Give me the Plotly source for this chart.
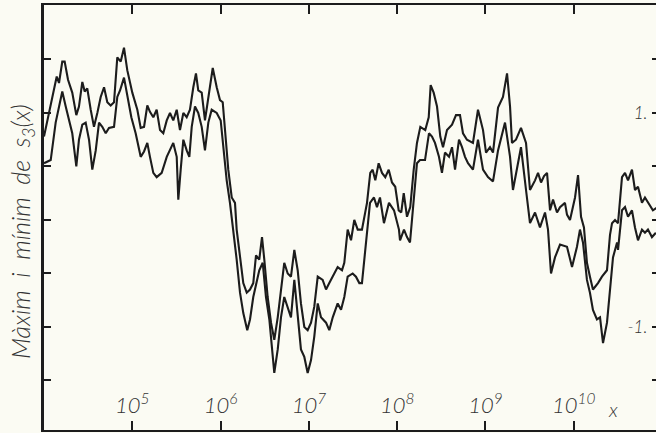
import plotly.graph_objects as go

# log10(x) positions and values
max_log10x = [4.000, 4.057, 4.113, 4.144, 4.170, 4.207, 4.234, 4.272, 4.320, 4.366, 4.396, 4.434, 4.461, 4.490,
              4.529, 4.566, 4.604, 4.642, 4.680, 4.717, 4.755, 4.793, 4.830, 4.869, 4.906, 4.943, 5.000, 5.057,
              5.095, 5.133, 5.170, 5.200, 5.238, 5.276, 5.314, 5.351, 5.390, 5.427, 5.464, 5.503, 5.540, 5.578,
              5.616, 5.653, 5.691, 5.721, 5.747, 5.786, 5.823, 5.861, 5.911, 5.956, 5.993, 6.024, 6.050, 6.087,
              6.126, 6.163, 6.182, 6.220, 6.257, 6.296, 6.333, 6.370, 6.401, 6.438, 6.469, 6.495, 6.533, 6.571,
              6.608, 6.647, 6.684, 6.721, 6.760, 6.797, 6.835, 6.873, 6.910, 6.948, 6.986, 7.024, 7.061, 7.100,
              7.156, 7.194, 7.231, 7.270, 7.326, 7.375, 7.401, 7.439, 7.477, 7.514, 7.553, 7.601, 7.658, 7.695,
              7.722, 7.752, 7.790, 7.828, 7.865, 7.904, 7.941, 7.978, 8.017, 8.046, 8.074, 8.111, 8.148, 8.187,
              8.224, 8.262, 8.318, 8.357, 8.379, 8.413, 8.451, 8.488, 8.519, 8.564, 8.621, 8.666, 8.711, 8.745,
              8.790, 8.858, 8.915, 8.972, 9.006, 9.051, 9.085, 9.142, 9.198, 9.244, 9.278, 9.300, 9.345, 9.402,
              9.459, 9.504, 9.561, 9.595, 9.629, 9.663, 9.697, 9.731, 9.765, 9.810, 9.844, 9.900, 9.923, 9.957,
              10.014, 10.048, 10.082, 10.115, 10.149, 10.183, 10.217, 10.274, 10.319, 10.376, 10.410, 10.433,
              10.467, 10.501, 10.546, 10.580, 10.614, 10.659, 10.693, 10.727, 10.772, 10.806, 10.840, 10.896,
              10.953]
max_values = [0.78, 1.00, 1.21, 1.34, 1.28, 1.48, 1.48, 1.31, 1.19, 0.98, 1.06, 1.29, 1.20, 1.23,
              1.03, 0.87, 1.00, 1.15, 1.24, 1.10, 1.07, 1.10, 1.52, 1.48, 1.61, 1.40, 1.19, 1.03,
              0.86, 0.87, 1.07, 1.01, 0.96, 1.03, 0.84, 0.81, 0.93, 1.00, 0.93, 1.03, 0.84, 1.00,
              0.96, 1.03, 1.24, 1.37, 1.21, 1.19, 0.93, 1.15, 1.42, 1.24, 1.12, 1.10, 0.84, 0.47,
              0.21, 0.16, -0.09, -0.37, -0.59, -0.68, -0.65, -0.59, -0.33, -0.37, -0.16, -0.37, -0.72, -0.96,
              -1.12, -0.91, -0.63, -0.40, -0.50, -0.53, -0.28, -0.47, -0.78, -1.00, -1.03, -0.96, -0.81, -0.53,
              -0.56, -0.65, -0.59, -0.53, -0.44, -0.47, -0.40, -0.09, -0.19, 0.00, -0.09, -0.09, 0.16, 0.44,
              0.47, 0.37, 0.53, 0.44, 0.40, 0.47, 0.35, 0.31, 0.09, 0.07, 0.25, 0.03, 0.12, 0.47,
              0.72, 0.87, 0.84, 0.96, 1.26, 1.19, 1.06, 0.78, 0.68, 0.84, 0.89, 0.98, 0.98, 0.81,
              0.75, 0.72, 1.03, 0.84, 0.63, 0.68, 0.63, 1.05, 1.15, 1.37, 1.06, 0.72, 0.75, 0.86,
              0.72, 0.28, 0.37, 0.44, 0.35, 0.41, 0.44, 0.09, 0.19, 0.07, 0.12, 0.16, 0.05, 0.00,
              0.21, 0.42, 0.03, -0.07, -0.40, -0.53, -0.65, -0.59, -0.53, -0.47, -0.14, -0.03,
              0.00, -0.03, 0.40, 0.44, 0.37, 0.47, 0.28, 0.31, 0.16, 0.21, 0.16, 0.09,
              0.12]

min_log10x = [4.000, 4.076, 4.132, 4.170, 4.207, 4.246, 4.283, 4.320, 4.366, 4.396, 4.434, 4.472, 4.510, 4.547,
              4.586, 4.623, 4.660, 4.699, 4.736, 4.793, 4.830, 4.861, 4.906, 4.943, 4.989, 5.038, 5.095, 5.133,
              5.170, 5.200, 5.238, 5.276, 5.333, 5.390, 5.427, 5.464, 5.503, 5.521, 5.548, 5.578, 5.616, 5.646,
              5.673, 5.710, 5.747, 5.786, 5.823, 5.861, 5.899, 5.956, 6.001, 6.031, 6.069, 6.106, 6.144, 6.182,
              6.220, 6.257, 6.302, 6.333, 6.370, 6.401, 6.438, 6.477, 6.514, 6.552, 6.608, 6.647, 6.684, 6.721,
              6.760, 6.797, 6.835, 6.873, 6.910, 6.948, 6.986, 7.024, 7.061, 7.100, 7.137, 7.194, 7.231, 7.270,
              7.326, 7.364, 7.401, 7.439, 7.496, 7.533, 7.571, 7.601, 7.658, 7.692, 7.737, 7.771, 7.805, 7.850,
              7.907, 7.964, 8.020, 8.032, 8.077, 8.111, 8.145, 8.190, 8.224, 8.258, 8.315, 8.360, 8.394, 8.428,
              8.473, 8.507, 8.541, 8.587, 8.621, 8.655, 8.700, 8.734, 8.768, 8.802, 8.858, 8.915, 8.972, 9.028,
              9.085, 9.142, 9.221, 9.278, 9.311, 9.368, 9.402, 9.459, 9.504, 9.561, 9.617, 9.674, 9.708, 9.742,
              9.787, 9.844, 9.923, 9.980, 10.036, 10.070, 10.104, 10.149, 10.183, 10.217, 10.262, 10.297, 10.331,
              10.376, 10.410, 10.444, 10.490, 10.501, 10.546, 10.580, 10.614, 10.659, 10.693, 10.727, 10.772,
              10.806, 10.840, 10.885, 10.930]
min_values = [0.53, 0.56, 0.91, 1.06, 1.20, 1.06, 0.93, 0.81, 0.50, 0.75, 0.89, 0.91, 0.75, 0.47,
              0.65, 0.91, 0.87, 0.81, 0.86, 0.87, 1.15, 1.21, 1.33, 1.15, 0.96, 0.81, 0.59, 0.64,
              0.72, 0.59, 0.44, 0.40, 0.44, 0.59, 0.65, 0.72, 0.59, 0.19, 0.47, 0.75, 0.65, 0.59,
              0.87, 1.06, 1.00, 0.87, 0.65, 0.91, 1.03, 1.00, 0.93, 0.68, 0.37, 0.16, -0.09, -0.37,
              -0.68, -0.87, -1.03, -0.93, -0.72, -0.61, -0.47, -0.40, -0.72, -0.93, -1.43, -1.21, -0.91, -0.72,
              -0.81, -0.91, -0.56, -0.87, -1.21, -1.28, -1.43, -1.31, -1.09, -0.78, -0.91, -0.96, -1.03, -0.91,
              -0.78, -0.84, -0.72, -0.53, -0.50, -0.53, -0.59, -0.59, -0.16, 0.16, 0.21, 0.12, 0.21, -0.03,
              0.16, 0.09, -0.09, -0.19, -0.09, -0.16, -0.21, 0.21, 0.53, 0.56, 0.56, 0.81, 0.78, 0.72,
              0.59, 0.44, 0.63, 0.59, 0.68, 0.47, 0.75, 0.68, 0.59, 0.53, 0.47, 0.75, 0.47, 0.40,
              0.36, 0.65, 0.91, 0.59, 0.28, 0.53, 0.68, 0.28, -0.03, 0.07, -0.07, 0.07, -0.09, -0.50,
              -0.35, -0.23, -0.25, -0.44, -0.25, -0.09, -0.21, -0.56, -0.68, -0.84, -0.93, -0.91, -1.15,
              -0.96, -0.65, -0.35, -0.21, -0.28, 0.09, 0.12, 0.03, 0.09, -0.07, -0.19, -0.09,
              -0.12, -0.09, -0.16, -0.12]

x_tick_exponents = [5, 6, 7, 8, 9, 10]
x_tick_labels = ["10<sup>5</sup>", "10<sup>6</sup>", "10<sup>7</sup>", "10<sup>8</sup>",
                 "10<sup>9</sup>", "10<sup>10</sup>"]
y_tick_values = [-1.5, -1.0, -0.5, 0.0, 0.5, 1.0, 1.5]
y_right_label_values = [-1.0, 1.0]
y_right_labels = ["-1.", "1."]
y_right_minor_values = [-1.5, -0.5, 0.0, 0.5, 1.5]

ink = "#1c1c1c"
text_ink = "#333333"
paper = "#fbfbf3"
label_font = dict(family="Lato", size=22, color=text_ink, style="italic", weight=300)

fig = go.Figure()
for lx, vals in [(max_log10x, max_values), (min_log10x, min_values)]:
    fig.add_trace(go.Scatter(
        x=[10 ** v for v in lx], y=vals, mode="lines",
        line=dict(color=ink, width=2.1), showlegend=False, hoverinfo="skip"))
fig.add_trace(go.Scatter(x=[], y=[], yaxis="y2", showlegend=False, hoverinfo="skip"))

y_range = [-1.963, 2.009]
fig.update_layout(
    width=656, height=433,
    margin=dict(l=44, r=0, t=5, b=3, autoexpand=False),
    paper_bgcolor=paper, plot_bgcolor=paper,
    xaxis=dict(type="log", range=[4, 10.931], automargin=False,
               tickvals=[10 ** e for e in x_tick_exponents], ticktext=x_tick_labels,
               ticks="inside", ticklen=9, tickwidth=1.5, tickcolor=ink,
               showline=True, linecolor=ink, linewidth=2, mirror="ticks",
               showgrid=False, zeroline=False,
               ticklabelposition="inside", ticklabelstandoff=5,
               tickfont=label_font),
    yaxis=dict(range=y_range, tickvals=y_tick_values, showticklabels=False, automargin=False,
               ticks="inside", ticklen=7, tickwidth=1.5, tickcolor=ink,
               showline=True, linecolor=ink, linewidth=2.5, mirror=False,
               showgrid=False, zeroline=False),
    yaxis2=dict(range=y_range, overlaying="y", side="right", anchor="x", automargin=False,
                tickvals=y_right_label_values, ticktext=y_right_labels,
                ticks="inside", ticklen=4, tickwidth=1.5, tickcolor=ink,
                minor=dict(tickvals=y_right_minor_values, ticks="inside", ticklen=4,
                           tickwidth=1.5, tickcolor=ink, showgrid=False),
                showline=False, showgrid=False, zeroline=False,
                ticklabelposition="inside", ticklabelstandoff=5,
                tickfont=dict(family="Lato", size=17, color=text_ink, style="italic", weight=300)),
    annotations=[
        dict(text="Màxim  i  mínim  de  s<sub>3</sub>(x)", textangle=-90,
             xref="paper", yref="paper", x=-0.036, y=0.468, xanchor="center", yanchor="middle",
             showarrow=False,
             font=dict(family="Lato", size=25, color=text_ink, style="italic", weight=300)),
        dict(text="x", xref="paper", yref="paper", x=0.930, y=0.05, xanchor="center", yanchor="middle",
             showarrow=False,
             font=dict(family="Lato", size=20, color=text_ink, style="italic", weight=300)),
    ],
)

fig.write_html(
    "out.html",
    config={"displayModeBar": False},
    post_script="document.body.style.margin='0';document.body.style.background='%s';" % paper,
)
